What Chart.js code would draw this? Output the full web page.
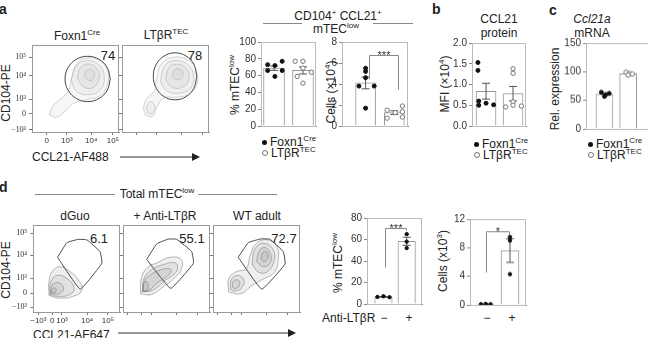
<!DOCTYPE html>
<html>
<head>
<meta charset="utf-8">
<script src="https://cdn.jsdelivr.net/npm/chart.js@4.4.1/dist/chart.umd.min.js"></script>
<style>
body { margin: 0; background: #fff; }
#fig { position: relative; width: 648px; height: 338px; overflow: hidden; font-family: "Liberation Sans", Arial, sans-serif; color: #222; }
#fig canvas { position: absolute; }
.t, .l, .r, .p { position: absolute; white-space: nowrap; font-size: 12px; line-height: 1; }
.t { transform: translate(-50%, -50%); }
.l { transform: translate(0, -50%); }
.r { transform: translate(-50%, -50%) rotate(-90deg); }
.p { font-weight: bold; font-size: 14px; }
.yt { position: absolute; width: 20px; text-align: right; font-size: 8px; line-height: 8px; height: 8px; color: #333; white-space: nowrap; z-index: 10; }
sup { font-size: 8px; vertical-align: baseline; position: relative; top: -5px; }
.hl { position: absolute; height: 1px; background: #888; }
.dot { display: inline-block; width: 5px; height: 5px; border-radius: 50%; background: #111; margin-right: 3px; vertical-align: 1px; }
.odot { display: inline-block; width: 4px; height: 4px; border-radius: 50%; background: #fff; border: 1px solid #777; margin-right: 3px; vertical-align: 1px; }
</style>
</head>
<body>
<div id="fig">
  <div class="p" style="left:-1px;top:2px">a</div>
  <div class="p" style="left:432px;top:2px">b</div>
  <div class="p" style="left:549px;top:3px">c</div>
  <div class="p" style="left:-1px;top:180px">d</div>

  <div class="t" style="left:77px;top:36px">Foxn1<sup>Cre</sup></div>
  <div class="t" style="left:166px;top:35px">LTβR<sup>TEC</sup></div>
  <div class="t" style="left:108px;top:55px;font-size:13px">74</div>
  <div class="t" style="left:195px;top:55px;font-size:13px">78</div>
  <div class="r" style="left:6px;top:93px">CD104-PE</div>
  <div class="l" style="left:32px;top:157px">CCL21-AF488</div>
  <svg style="position:absolute;left:118px;top:152px" width="84" height="10"><line x1="2" y1="5" x2="74" y2="5" stroke="#333" stroke-width="1"/><polygon points="74,1 82,5 74,9" fill="#222"/></svg>

  <div class="t" style="left:338px;top:16px">CD104<sup>+</sup> CCL21<sup>+</sup></div>
  <div class="t" style="left:336px;top:29px">mTEC<sup>low</sup></div>
  <div class="hl" style="left:263px;top:23px;width:39px"></div>
  <div class="hl" style="left:373px;top:23px;width:40px"></div>
  <div class="r" style="left:235px;top:85px">% mTEC<sup>low</sup></div>
  <div class="r" style="left:331px;top:92px">Cells (×10<sup>4</sup>)</div>

  <div class="t" style="left:499px;top:19px">CCL21</div>
  <div class="t" style="left:499px;top:33px">protein</div>
  <div class="r" style="left:445px;top:84px">MFI (×10<sup>4</sup>)</div>

  <div class="t" style="left:592px;top:19px;font-style:italic">Ccl21a</div>
  <div class="t" style="left:592px;top:33px">mRNA</div>
  <div class="r" style="left:555px;top:89px">Rel. expression</div>

  <div class="t" style="left:157px;top:194px">Total mTEC<sup>low</sup></div>
  <div class="hl" style="left:35px;top:194px;width:80px"></div>
  <div class="hl" style="left:198px;top:194px;width:79px"></div>
  <div class="t" style="left:75px;top:216px">dGuo</div>
  <div class="t" style="left:165px;top:216px">+ Anti-LTβR</div>
  <div class="t" style="left:257px;top:216px">WT adult</div>
  <div class="t" style="left:99px;top:238px;font-size:13px">6.1</div>
  <div class="t" style="left:192px;top:238px;font-size:13px">55.1</div>
  <div class="t" style="left:284px;top:238px;font-size:13px">72.7</div>
  <div class="r" style="left:6px;top:270px">CD104-PE</div>
  <div class="l" style="left:33px;top:335px">CCL21-AF647</div>
  <svg style="position:absolute;left:116px;top:328px" width="182" height="10"><line x1="2" y1="5" x2="172" y2="5" stroke="#333" stroke-width="1"/><polygon points="172,1 180,5 172,9" fill="#222"/></svg>

  <div class="r" style="left:338px;top:263px">% mTEC<sup>low</sup></div>
  <div class="r" style="left:443px;top:261px">Cells (x10<sup>3</sup>)</div>
  <div class="l" style="left:322px;top:318px">Anti-LTβR</div>
  <div id="legends"></div>
</div>
<script>
// ---- data ----
const genotypes = ['Foxn1<sup>Cre</sup>', 'LTβR<sup>TEC</sup>'];
const treatment = ['−', '+'];

// flow axes (biexponential, positions in display units 0-100)
const flowYLabels = ['−10³', '0', '10³', '10⁴', '10⁵'];
const flowYPosA = [2.3, 20.7, 37.9, 64.4, 86.2];
const flowXLabelsA = ['0', '10³', '10⁴', '10⁵'];
const flowXPosA = [17, 40, 68, 93];
const flowYPosD = [5.7, 21.8, 39, 65.5, 90.8];
const flowXLabelsD = ['−10³', '0', '10³', '10⁴', '10⁵'];
const flowXPosD = [5.7, 21.8, 33, 62, 86];

// gates
const gateA1 = [[90,61],[86.5,74],[77,83.5],[64,87],[51,83.5],[41.5,74],[38,61],[41.5,48],[51,38.5],[64,35],[77,38.5],[86.5,48]];
const gateA2 = [[86,64],[82.7,77.5],[73.5,87.4],[61,91],[48.5,87.4],[39.3,77.5],[36,64],[39.3,50.5],[48.5,40.6],[61,37],[73.5,40.6],[82.7,50.5]];
const gateD1 = [[27.9,62.9],[38.7,79.7],[52,83.5],[62,82.8],[77,69.3],[79,56],[54,26.4]];
const gateD2 = [[27.2,60.5],[38.7,78.2],[52,83.8],[61.7,83.6],[79,69.3],[81,56],[54.8,27.2]];
const gateD3 = [[29,62.9],[40.6,79.7],[55,84],[65.5,83.6],[80.8,69.3],[82.8,55.2],[56,26.4]];

// contour levels (outer to inner)
const contA1 = [
  [[20,20],[24,30],[33,38],[42,48],[46,64],[52,79],[63,85],[78,82],[87,70],[86,52],[77,41],[62,37],[48,33],[38,24],[28,17]],
  [[45,60],[51,76],[63,82],[77,77],[83,63],[78,48],[64,43],[51,47]],
  [[52,62],[56,74],[66,78],[75,72],[77,61],[70,51],[59,52]],
  [[60,63],[62,70],[68,72],[72,66],[68,59]]
];
const contA2 = [
  [[27,19],[25,30],[30,40],[37,47],[40,62],[46,79],[59,86],[75,83],[85,72],[86,55],[78,44],[63,40],[48,39],[40,28],[35,18]],
  [[44,58],[49,76],[60,82],[75,78],[82,66],[80,52],[68,45],[52,47]],
  [[50,60],[54,74],[63,78],[74,73],[77,63],[72,53],[58,51]],
  [[58,63],[60,71],[67,72],[70,66],[65,60]],
  [[29,22],[29,31],[34,35],[38,29],[34,21]]
];
const contD1 = [
  [[18,19],[18,35],[22,47],[30,52],[40,48],[52,37],[56,25],[46,18],[30,16]],
  [[19,20],[20,34],[27,42],[38,39],[47,28],[42,20],[28,18]],
  [[20,21],[21,30],[28,34],[35,28],[30,21]],
  [[21,22],[22,27],[26,27],[25,22]]
];
const contD2 = [
  [[20,21],[21,38],[27,50],[40,57],[55,63],[67,60],[67,49],[58,38],[45,28],[32,20]],
  [[22,23],[24,38],[32,48],[48,55],[61,56],[61,46],[48,36],[34,25]],
  [[23,24],[25,36],[32,43],[45,49],[55,49],[52,42],[40,34],[30,25]],
  [[23,24],[24,34],[28,34],[28,25]]
];
const contD3 = [
  [[18,23],[18,38],[26,46],[38,50],[43,66],[50,79],[62,83],[73,76],[75,60],[70,45],[58,38],[44,30],[32,21]],
  [[45,55],[48,72],[58,79],[69,72],[70,58],[62,46],[52,46]],
  [[50,58],[53,70],[60,74],[66,67],[66,57],[58,52]],
  [[55,61],[57,68],[62,69],[63,62],[59,58]],
  [[20,26],[21,37],[28,42],[35,38],[34,29],[26,24]],
  [[22,29],[24,36],[30,36],[30,30],[25,27]]
];

// bar panels: individual mice
const pctFoxn1 = [73, 72, 77, 66, 66, 59];
const pctLtbr = [77, 77, 69, 64, 59, 51];
const cellsFoxn1 = [5.5, 5.2, 4.6, 3.8, 3.8, 1.7];
const cellsLtbr = [1.5, 0.75, 1.27, 1.9, 1.36, 0.85];
const mfiFoxn1 = [1.53, 1.34, 0.6, 0.5, 0.55, 0.51];
const mfiLtbr = [1.38, 1.27, 0.58, 0.5, 0.46, 0.48];
const ccl21Foxn1 = [64, 60, 62, 57];
const ccl21Ltbr = [99, 97, 96, 94];
const pctDguo = [6.6, 7.2, 6.3];
const pctAnti = [65, 58, 52];
const cellsDguo = [0.1, 0.15, 0.1];
const cellsAnti = [9.5, 9.0, 4.3];

// ---- helpers ----
const FONT = '"Liberation Sans", Arial, sans-serif';
Chart.defaults.font.family = FONT;
Chart.defaults.color = '#333';
Chart.defaults.animation = false;
Chart.defaults.plugins.legend.display = false;
Chart.defaults.plugins.tooltip.enabled = false;

const fig = document.getElementById('fig');
function addCanvas(x, y, w, h) {
  const c = document.createElement('canvas');
  c.width = w; c.height = h;
  c.style.left = x + 'px'; c.style.top = y + 'px';
  c.style.width = w + 'px'; c.style.height = h + 'px';
  fig.appendChild(c);
  return c;
}
const mean = a => a.reduce((s, v) => s + v, 0) / a.length;
const sem = a => {
  const m = mean(a);
  return Math.sqrt(a.reduce((s, v) => s + (v - m) * (v - m), 0) / (a.length - 1) / a.length);
};

function framePlugin(color) {
  return {
    id: 'frame',
    afterDraw(chart) {
      const { ctx, chartArea: a } = chart;
      ctx.save();
      ctx.strokeStyle = color;
      ctx.lineWidth = 1;
      ctx.strokeRect(Math.round(a.left) + 0.5, Math.round(a.top) + 0.5, Math.round(a.width) - 1, Math.round(a.height));
      ctx.restore();
    }
  };
}

function statsPlugin(groups, cap, br) {
  return {
    id: 'stats',
    afterDatasetDraw(chart, args) {
      if (args.index !== 0) return;
      const { ctx, scales: { x, y } } = chart;
      ctx.save();
      ctx.strokeStyle = '#555';
      ctx.lineWidth = 1;
      groups.forEach((g, i) => {
        const m = mean(g), s = sem(g);
        const px = x.getPixelForValue(i);
        const t = y.getPixelForValue(m + s), b = y.getPixelForValue(m - s);
        ctx.beginPath();
        ctx.moveTo(px, t); ctx.lineTo(px, b);
        ctx.moveTo(px - cap, t); ctx.lineTo(px + cap, t);
        ctx.moveTo(px - cap, b); ctx.lineTo(px + cap, b);
        ctx.stroke();
      });
      ctx.restore();
    },
    afterDraw(chart) {
      if (!br) return;
      const { ctx, scales: { x, y } } = chart;
      const x1 = Math.round(x.getPixelForValue(br.x1)) + 0.5, x2 = Math.round(x.getPixelForValue(br.x2)) + 0.5;
      const top = Math.round(y.getPixelForValue(br.top)) + 0.5;
      ctx.save();
      ctx.strokeStyle = '#888';
      ctx.lineWidth = 1;
      ctx.beginPath();
      ctx.moveTo(x1, y.getPixelForValue(br.y1));
      ctx.lineTo(x1, top); ctx.lineTo(x2, top);
      ctx.lineTo(x2, y.getPixelForValue(br.y2));
      ctx.stroke();
      ctx.fillStyle = '#333';
      ctx.font = '11px ' + FONT;
      ctx.textAlign = 'center';
      ctx.textBaseline = 'alphabetic';
      ctx.fillText(br.label, (x1 + x2) / 2, top + 3);
      ctx.restore();
    }
  };
}

const FLOW = 87; // flow plot box size, px
function flowPlot(o) {
  const pt = 6, pr = 2;
  const yw = 4, xh = o.xLabels ? 14 : 5;
  const cv = addCanvas(o.x - yw, o.y - pt, yw + FLOW + pr, pt + FLOW + xh);
  const close = p => p.concat([p[0]]).map(q => ({ x: q[0], y: q[1] }));
  const datasets = o.contours.map(c => ({
    type: 'line', data: close(c), fill: 'shape', tension: 0.45,
    borderColor: o.dark ? 'rgba(60,60,60,0.5)' : 'rgba(120,120,120,0.45)',
    backgroundColor: o.dark ? 'rgba(110,110,110,0.11)' : 'rgba(160,160,160,0.09)',
    borderWidth: 0.7, pointRadius: 0
  }));
  datasets.push({
    type: 'line', data: close(o.gate), fill: false, tension: o.round ? 0.4 : 0.1,
    borderColor: '#444', borderWidth: 1, pointRadius: 0
  });
  const axis = (pos, labels, show, isY) => ({
    type: 'linear', min: 0, max: 100,
    afterBuildTicks: s => { s.ticks = pos.map(v => ({ value: v })); },
    afterFit: s => { if (isY) s.width = yw; else s.height = xh; },
    ticks: { display: show, autoSkip: false, maxRotation: 0, padding: 1, font: { size: 8 }, callback: (v, i) => labels[i] },
    grid: { drawOnChartArea: false, tickLength: 3, color: '#777' },
    border: { color: '#888' }
  });
  return new Chart(cv, {
    type: 'scatter',
    data: { datasets },
    options: {
      responsive: false, events: [],
      layout: { padding: { top: pt, right: pr, left: 0, bottom: 0 } },
      scales: {
        x: axis(o.xPos, o.xTicks, o.xLabels, false),
        y: axis(o.yPos, flowYLabels, false, true)
      }
    },
    plugins: [framePlugin('#999')]
  });
}

function barPanel(o) {
  const pt = 8, pr = 1, yw = 26, xh = 4;
  const w = o.x1 - o.x0, h = o.y1 - o.y0;
  const cv = addCanvas(o.x0 - yw, o.y0 - pt, yw + w + pr, pt + h + xh);
  const datasets = [{
    type: 'bar', data: o.groups.map((g, i) => ({ x: i, y: mean(g) })),
    backgroundColor: '#fff', borderColor: '#999', borderWidth: 1, barThickness: o.bw, order: 3
  }];
  o.groups.forEach((g, i) => {
    const open = o.open[i];
    datasets.push({
      type: 'scatter', data: g.map((v, k) => ({ x: i + o.jit[i][k], y: v })),
      pointRadius: open ? 2.2 : o.r, pointBorderWidth: 1,
      pointBackgroundColor: open ? '#fff' : '#111', pointBorderColor: open ? '#777' : '#111', order: 1
    });
  });
  new Chart(cv, {
    type: 'scatter',
    data: { datasets },
    options: {
      responsive: false, events: [],
      layout: { padding: { top: pt, right: pr, left: 0, bottom: 0 } },
      scales: {
        x: {
          type: 'linear', min: o.xMin, max: o.xMax, offset: false,
          afterFit: s => { s.height = xh; },
          ticks: { display: false }, grid: { display: false }, border: { color: '#888' }
        },
        y: {
          type: 'linear', min: 0, max: o.yMax, offset: false,
          afterFit: s => { s.width = yw; },
          ticks: { stepSize: o.step, padding: 2, font: { size: 10 }, color: '#333', callback: o.fmt || (v => v) },
          grid: { drawOnChartArea: false, tickLength: 3, color: '#888' },
          border: { color: '#888' }
        }
      }
    },
    plugins: [framePlugin('#bbb'), statsPlugin(o.groups, o.cap, o.bracket)]
  });
}

// y tick labels of a flow plot: text placed at the chart's own y-scale pixels
function flowYTickText(chart, canvasTop, boxLeft, pos) {
  const ys = chart.scales.y;
  pos.forEach((v, i) => {
    const d = document.createElement('div');
    d.className = 'yt';
    d.textContent = flowYLabels[i];
    d.style.left = (boxLeft - 26) + 'px';
    d.style.top = (canvasTop + ys.getPixelForValue(v) - 4) + 'px';
    document.body.appendChild(d);
  });
}

// ---- panel a flow ----
const flowA1 = flowPlot({ x: 32, y: 45, gate: gateA1, round: true, contours: contA1, xPos: flowXPosA, xTicks: flowXLabelsA, yPos: flowYPosA, xLabels: true });
flowPlot({ x: 122, y: 45, gate: gateA2, round: true, contours: contA2, xPos: flowXPosA, xTicks: flowXLabelsA, yPos: flowYPosA, xLabels: false });

// ---- panel a bars ----
barPanel({ x0: 260.5, x1: 320, y0: 42, y1: 130, yMax: 100, step: 20, xMin: -0.45, xMax: 1.45, bw: 21, cap: 4, r: 2,
  groups: [pctFoxn1, pctLtbr], open: [false, true],
  jit: [[-0.22, 0.03, 0.28, -0.22, 0.28, 0.03], [-0.27, 0, 0, 0.29, -0.2, 0]] });
barPanel({ x0: 342, x1: 412, y0: 42, y1: 130, yMax: 8, step: 2, xMin: -0.82, xMax: 1.475, bw: 20, cap: 4, r: 2,
  groups: [cellsFoxn1, cellsLtbr], open: [false, true],
  jit: [[0, 0, 0, -0.23, 0.3, 0], [-0.25, -0.25, 0.03, 0.28, 0.28, 0.28]],
  bracket: { x1: 0.13, x2: 1.12, top: 6.8, y1: 4.45, y2: 3.45, label: '***' } });

// ---- panel b ----
barPanel({ x0: 472, x1: 530, y0: 43, y1: 130, yMax: 2, step: 0.5, xMin: -0.52, xMax: 1.48, bw: 20, cap: 4, r: 2,
  fmt: v => v.toFixed(1),
  groups: [mfiFoxn1, mfiLtbr], open: [false, true],
  jit: [[-0.3, -0.3, -0.27, -0.27, 0, 0.28], [0, 0, 0, 0, -0.27, 0.31]] });

// ---- panel c ----
barPanel({ x0: 586, x1: 662, y0: 43, y1: 132.5, yMax: 150, step: 50, xMin: -0.78, xMax: 2.26, bw: 17, cap: 0, r: 2,
  groups: [ccl21Foxn1, ccl21Ltbr], open: [false, true],
  jit: [[-0.13, 0.05, 0.2, 0], [-0.09, 0.05, 0.18, 0]] });

// ---- panel d flow ----
const flowD1 = flowPlot({ x: 33, y: 225, gate: gateD1, contours: contD1, dark: true, xPos: flowXPosD, xTicks: flowXLabelsD, yPos: flowYPosD, xLabels: true });
flowPlot({ x: 123, y: 225, gate: gateD2, contours: contD2, dark: true, xPos: flowXPosD, xTicks: flowXLabelsD, yPos: flowYPosD, xLabels: false });
flowPlot({ x: 213, y: 225, gate: gateD3, contours: contD3, dark: true, xPos: flowXPosD, xTicks: flowXLabelsD, yPos: flowYPosD, xLabels: false });

// ---- panel d bars ----
barPanel({ x0: 366.7, x1: 426, y0: 218.3, y1: 308.3, yMax: 80, step: 20, xMin: -0.71, xMax: 1.66, bw: 17.5, cap: 4, r: 1.7,
  groups: [pctDguo, pctAnti], open: [false, false],
  jit: [[-0.26, 0, 0.26], [0, 0, 0]],
  bracket: { x1: 0.05, x2: 0.98, top: 71, y1: 34, y2: 68, label: '***' } });
barPanel({ x0: 470, x1: 530, y0: 219.3, y1: 309, yMax: 12, step: 4, xMin: -0.65, xMax: 1.66, bw: 18, cap: 4, r: 1.7,
  groups: [cellsDguo, cellsAnti], open: [false, false],
  jit: [[-0.2, 0, 0.2], [0, 0, 0]],
  bracket: { x1: 0, x2: 0.96, top: 10.35, y1: 4.55, y2: 9.7, label: '*' } });

// ---- legends, category labels and flow y tick labels ----
const leg = document.getElementById('legends');
[[262, 142], [474, 144], [588, 144]].forEach(([x, y]) => {
  leg.insertAdjacentHTML('beforeend',
    `<div class="l" style="left:${x}px;top:${y}px"><span class="dot"></span>${genotypes[0]}</div>` +
    `<div class="l" style="left:${x}px;top:${y + 11}px"><span class="odot"></span>${genotypes[1]}</div>`);
});
[[384, 409], [487, 512]].forEach(xs => {
  xs.forEach((x, i) => leg.insertAdjacentHTML('beforeend', `<div class="t" style="left:${x}px;top:318px">${treatment[i]}</div>`));
});
flowYTickText(flowA1, 45 - 6, 32, flowYPosA);
flowYTickText(flowD1, 225 - 6, 33, flowYPosD);
</script>
</body>
</html>
